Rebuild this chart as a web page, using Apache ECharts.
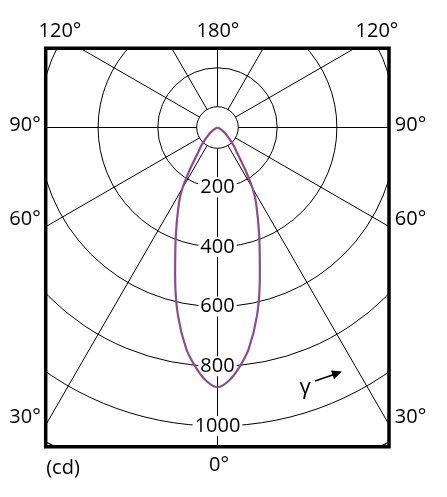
<!DOCTYPE html>
<html><head><meta charset="utf-8">
<script src="https://cdn.jsdelivr.net/npm/echarts@6/dist/echarts.min.js"></script>
<style>html,body{margin:0;padding:0;background:#fff}#c{width:447px;height:497px}</style>
</head><body><div id="c"></div>
<script>
// gamma angle (deg) and luminous intensity (cd) (symmetric curve)
const gammaDeg  = [0,   2.5, 5,   8,   12,  16,  21,  27,  30,  33,  35,  38,  42, 47, 52, 58, 65, 75];
const intensity = [870, 850, 810, 750, 640, 515, 390, 285, 235, 175, 140, 105, 80, 53, 35, 18, 6,  0];

const radiusMax = 1200;      // grid continues beyond the last labelled circle (corner arcs)
const lastLabel = 1000;
const radiusStep = 200;
const angleStep = 30;

const angleLabels = ['120°', '180°', '120°', '90°', '90°', '60°', '60°', '30°', '30°', '0°', '(cd)'];
const angleLabelPos = [[60,31],[218,31],[377,31],[25,125],[410.5,125],[25,219],[410.5,219],[25,417.5],[410.5,417.5],[219,465],[63,468]];

const CX = 217.5, CY = 127.5, PX_PER_CD = 0.2985;
const R = radiusMax * PX_PER_CD;
const FONT = '"Open Sans", "Noto Sans", sans-serif';
const FS = 20;
const FW = 500;

// build curve: right side from top to bottom, then left side back up
const curve = [];
for (let i = gammaDeg.length - 1; i >= 0; i--) curve.push([intensity[i], gammaDeg[i]]);
for (let i = 1; i < gammaDeg.length; i++) curve.push([intensity[i], 360 - gammaDeg[i]]);

const chart = echarts.init(document.getElementById('c'), null, {renderer: 'canvas'});

const graphics = [
  {type:'circle', z:1, shape:{cx:CX, cy:CY, r:20.8}, style:{fill:'#fff', stroke:'#000', lineWidth:1}},
  {type:'rect', z:10, shape:{x:0, y:0, width:447, height:47}, style:{fill:'#fff'}},
  {type:'rect', z:10, shape:{x:0, y:0, width:45, height:497}, style:{fill:'#fff'}},
  {type:'rect', z:10, shape:{x:389.5, y:0, width:60, height:497}, style:{fill:'#fff'}},
  {type:'rect', z:10, shape:{x:0, y:446, width:447, height:60}, style:{fill:'#fff'}},
  {type:'rect', z:11, shape:{x:45.7, y:48.3, width:343.3, height:398.4}, style:{fill:'none', stroke:'#000', lineWidth:3.5}},
  {type:'line', z:12, shape:{x1:315, y1:381, x2:334, y2:374.5}, style:{stroke:'#000', lineWidth:1.5}},
  {type:'polygon', z:12, shape:{points:[[342,371.5],[334,379.3],[331,370.5]]}, style:{fill:'#000'}},
  {type:'text', z:12, style:{text:'γ', x:305, y:388, fontSize:22, fontWeight:FW, fontFamily:FONT, fill:'#000', align:'center', verticalAlign:'middle', textAlign:'center', textVerticalAlign:'middle'}}
];
angleLabels.forEach((t, i) => {
  graphics.push({type:'text', z:12, style:{text:t, x:angleLabelPos[i][0], y:angleLabelPos[i][1], fontSize:FS, fontWeight:FW, fontFamily:FONT, fill:'#000', align:'center', verticalAlign:'middle', textAlign:'center', textVerticalAlign:'middle'}});
});

chart.setOption({
  animation: false,
  backgroundColor: '#fff',
  polar: {center: [CX, CY], radius: [0, R]},
  angleAxis: {
    type: 'value', min: 0, max: 360, interval: angleStep, startAngle: 270, clockwise: true, z: 0,
    axisLine: {show: true, lineStyle: {color: '#000', width: 1}},
    axisTick: {show: false},
    axisLabel: {show: false},
    splitLine: {show: true, lineStyle: {color: '#000', width: 1}}
  },
  radiusAxis: {
    type: 'value', min: 0, max: radiusMax, interval: radiusStep, z: 2,
    axisLine: {show: false},
    axisTick: {show: false},
    splitLine: {show: true, lineStyle: {color: '#000', width: 1}},
    axisLabel: {
      show: true, margin: 0, align: 'center', verticalAlign: 'middle',
      showMinLabel: false, showMaxLabel: true,
      fontSize: FS, fontWeight: FW, fontFamily: FONT, color: '#000',
      backgroundColor: '#fff', padding: [0, 2],
      formatter: v => (v === 0 || v > lastLabel ? '' : String(v))
    }
  },
  series: [{
    type: 'line', coordinateSystem: 'polar', z: 3,
    data: curve, symbol: 'none', smooth: 0.3,
    lineStyle: {color: '#8E4A8E', width: 2.2}
  }],
  graphic: graphics
});
</script>
</body></html>
